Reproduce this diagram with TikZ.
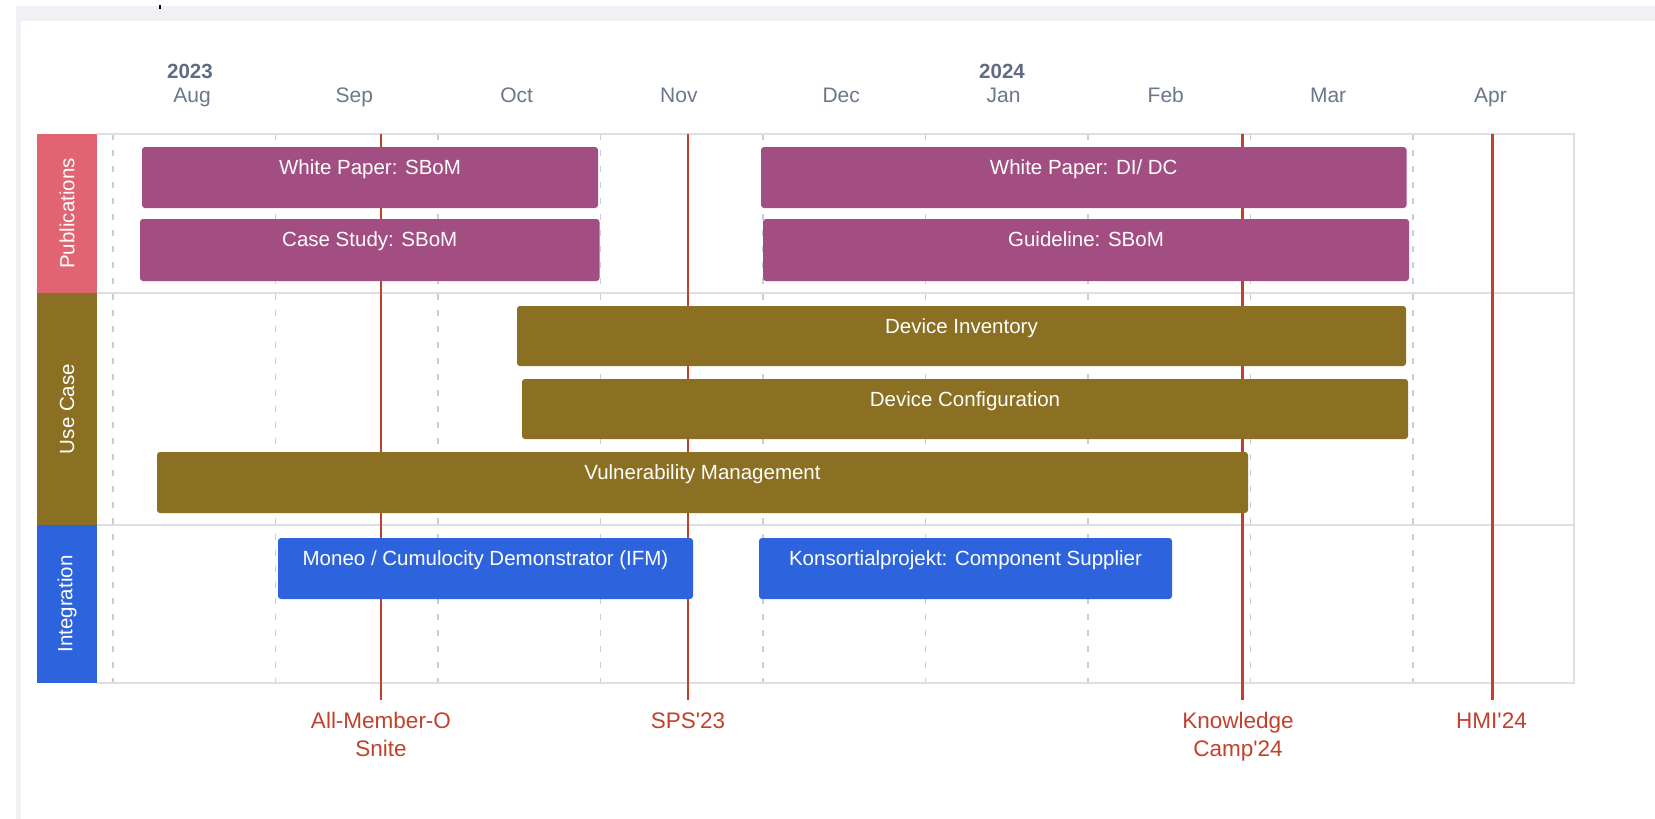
\documentclass[tikz,border=0pt]{standalone}
\usepackage{fontspec}
\setmainfont{Liberation Sans}
\newfontfamily\lsans{Liberation Sans}
\definecolor{bandgray}{HTML}{F0F1F4}
\definecolor{gridborder}{HTML}{DCDFE4}
\definecolor{griddash}{HTML}{C9CDD5}
\definecolor{monthgray}{HTML}{6B778C}
\definecolor{yeargray}{HTML}{5E6C84}
\definecolor{evred}{HTML}{C2412D}
\definecolor{barpurple}{HTML}{A34E82}
\definecolor{barolive}{HTML}{8B6F22}
\definecolor{barblue}{HTML}{2D64DD}
\definecolor{labpink}{HTML}{E06472}
\newcommand\gbar[7]{%
  \fill[#2, rounded corners=3pt] (#3,#4) rectangle (#5,#6);
  \node[bartext] (#1) at ({(#3+#5)/2},{#4+27.5}) {#7};}
\begin{document}
\begin{tikzpicture}[x=1pt,y=-1pt,
  bartext/.style={anchor=base, text=white, font=\lsans\fontsize{20.5}{24}\selectfont, inner sep=0pt},
  monthlab/.style={anchor=base, text=monthgray, font=\lsans\fontsize{21}{24}\selectfont, inner sep=0pt},
  yearlab/.style={anchor=base, text=yeargray, font=\lsans\bfseries\fontsize{20.5}{24}\selectfont, inner sep=0pt},
  evlab/.style={anchor=base, text=evred, font=\lsans\fontsize{22.5}{26}\selectfont, inner sep=0pt},
  rowlab/.style={rotate=90, text=white, font=\lsans\fontsize{20.5}{24}\selectfont, inner sep=0pt},
  dashline/.style={griddash, line width=1.4pt, dash pattern=on 6pt off 10pt},
  evline/.style={evred, line width=2.2pt},
  border/.style={gridborder, line width=1.6pt}]
\useasboundingbox (0,0) rectangle (1655,819);
\fill[white] (0,0) rectangle (1655,819);
% page frame
\fill[bandgray] (16,6) rectangle (1655,21);
\fill[bandgray] (16,6) rectangle (21,819);
\fill[black] (158.5,5) rectangle (160.5,9);
% header
\node[yearlab] (y23) at (190,78) {2023};
\node[yearlab] (y24) at (1002,78) {2024};
\foreach \m [count=\i from 0] in {Aug,Sep,Oct,Nov,Dec,Jan,Feb,Mar,Apr}
  \node[monthlab] (m\i) at ({192+162.3*\i},102) {\m};
% grid dashed lines
\foreach \x in {113,275.5,438,600.5,763,925.5,1088,1250.5,1413}
  \draw[dashline] (\x,134) -- (\x,683);
% grid border
\draw[border] (97,134) -- (1574,134) -- (1574,683) -- (97,683);
\draw[border] (97,293) -- (1574,293);
\draw[border] (97,525) -- (1574,525);
% event lines
\draw[evline] (381,134) -- (381,700);
\draw[evline] (688,134) -- (688,700);
\draw[evline] (1242.5,134) -- (1242.5,700);
\draw[evline] (1492.5,134) -- (1492.5,700);
\node[evlab] (e1a) at (381,728) {All-Member-O};
\node[evlab] (e1b) at (381,756) {Snite};
\node[evlab] (e2) at (688,728) {SPS'23};
\node[evlab] (e3a) at (1238,728) {Knowledge};
\node[evlab] (e3b) at (1238,756) {Camp'24};
\node[evlab] (e4) at (1491.5,728) {HMI'24};
% row labels
\fill[labpink] (37,134) rectangle (97,293);
\fill[barolive] (37,293) rectangle (97,525);
\fill[barblue] (37,525) rectangle (97,683);
\node[rowlab] (rpub) at (67,213.5) {Publications};
\node[rowlab] (ruse) at (67,409) {Use Case};
\node[rowlab] (rint) at (67,604) {Integration};
% bars
\gbar{b1}{barpurple}{142}{147}{598}{208}{White Paper: SBoM}
\gbar{b2}{barpurple}{140}{219}{599.5}{281}{Case Study: SBoM}
\gbar{b3}{barpurple}{761}{147}{1406.5}{208}{White Paper: DI/ DC}
\gbar{b4}{barpurple}{763}{219}{1409}{281}{Guideline: SBoM}
\gbar{b5}{barolive}{517}{306}{1406}{366}{Device Inventory}
\gbar{b6}{barolive}{522}{379}{1408}{439}{Device Configuration}
\gbar{b7}{barolive}{157}{452}{1248}{513}{Vulnerability Management}
\gbar{b8}{barblue}{278}{538}{693}{599}{Moneo / Cumulocity Demonstrator (IFM)}
\gbar{b9}{barblue}{759}{538}{1172}{599}{Konsortialprojekt: Component Supplier}
\end{tikzpicture}
\end{document}
